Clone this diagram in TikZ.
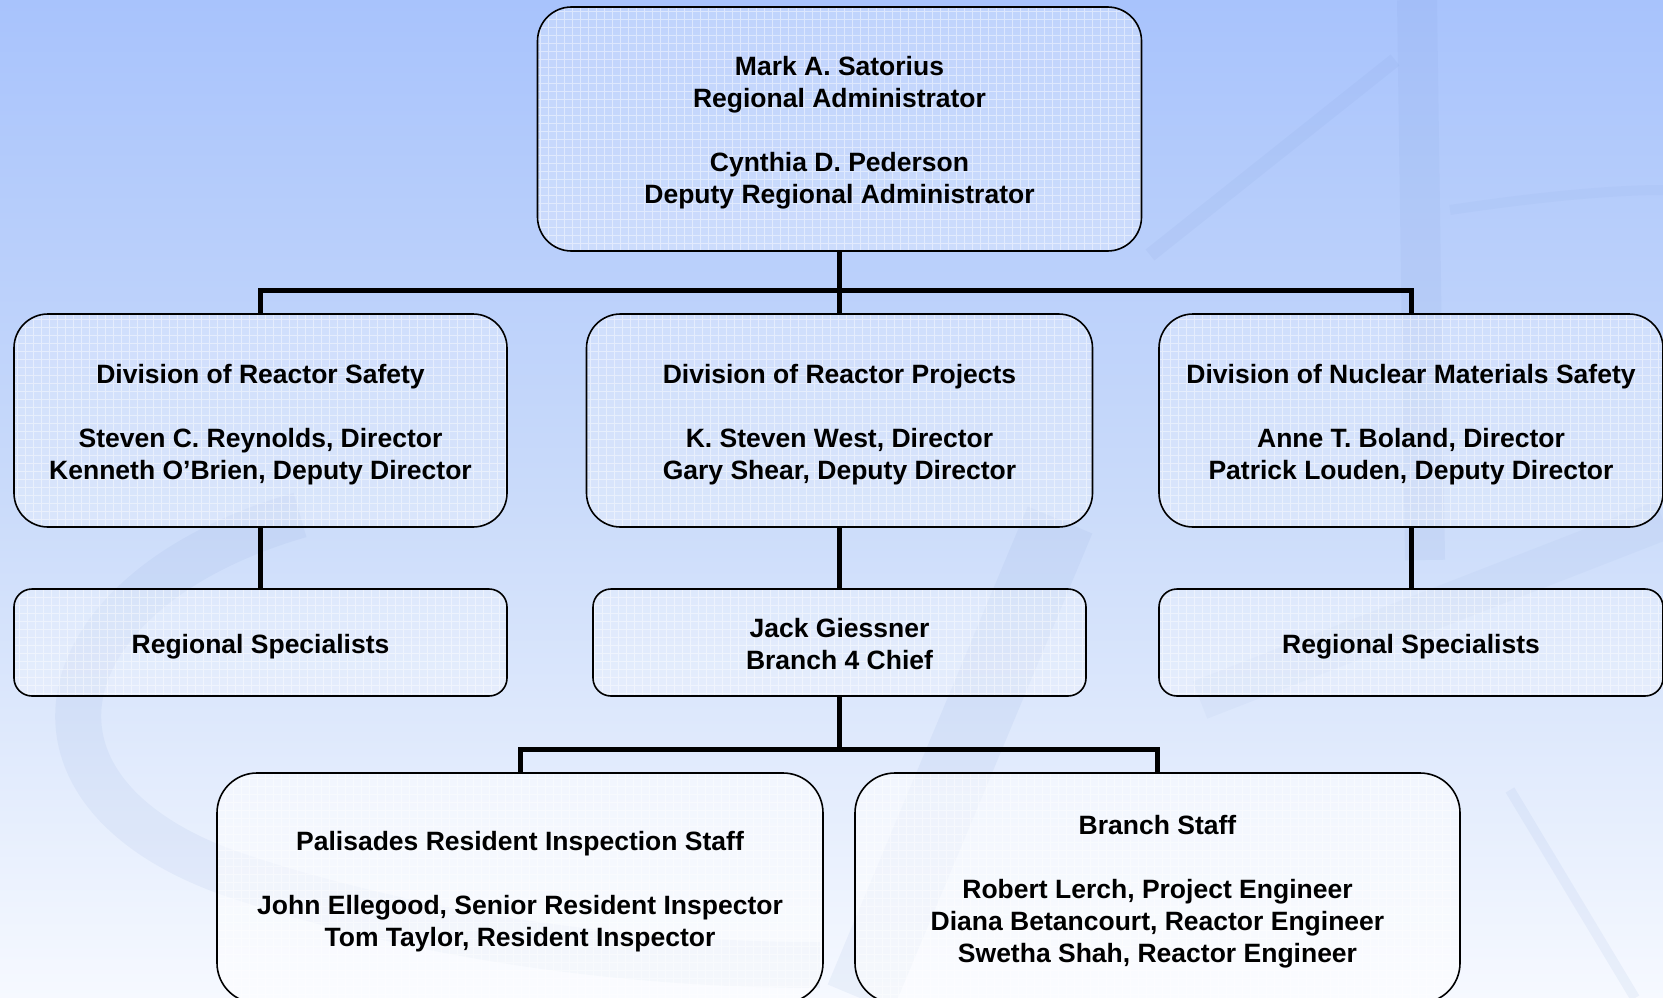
\documentclass[tikz,border=0pt]{standalone}
\usepackage{fontspec}
\setmainfont{Liberation Sans}
\definecolor{bgA}{RGB}{168,195,252}
\definecolor{bgB}{RGB}{202,219,250}
\definecolor{bgC}{RGB}{246,249,255}
\definecolor{ghost}{RGB}{120,150,210}
\newcommand\tstrut{\rule{0pt}{28pt}}
\tikzset{
  box/.style={draw=black, line width=1.6pt, rounded corners=34pt, fill=white,
    fill opacity=0.28, text opacity=1, align=center,
    font=\fontsize{26.5}{32}\bfseries\selectfont, inner sep=0pt,
    execute at end node={\rule[-7pt]{0pt}{7pt}},
    path picture={\draw[white, opacity=0.45, line width=0.6pt, step=8pt]
      (path picture bounding box.south west) grid (path picture bounding box.north east);}},
  smallbox/.style={box, rounded corners=18pt},
  lowbox/.style={box, fill opacity=0.55, rounded corners=40pt},
  conn/.style={line width=5pt, draw=black}
}
\begin{document}
\begin{tikzpicture}[x=1pt,y=-1pt]
\useasboundingbox (0,0) rectangle (1663,998);
\shade[top color=bgA, bottom color=bgC, middle color=bgB] (0,0) rectangle (1663,998);
% faint background emblem
\begin{scope}
\clip (0,0) rectangle (1663,998);
\draw[ghost, opacity=0.09, line width=46pt] (300,515) .. controls (40,590) and (-10,800) .. (250,880) .. controls (420,935) and (620,965) .. (820,965);
\draw[ghost, opacity=0.09, line width=40pt] (1417,0) -- (1425,560);
\draw[ghost, opacity=0.09, line width=14pt] (1150,255) -- (1395,60);
\draw[ghost, opacity=0.07, line width=10pt] (1450,210) .. controls (1550,195) and (1620,190) .. (1663,190);
\draw[ghost, opacity=0.09, line width=70pt] (1060,520) -- (860,998);
\draw[ghost, opacity=0.06, line width=40pt] (1663,520) -- (1200,700);
\draw[ghost, opacity=0.09, line width=10pt] (1510,790) -- (1635,998);
\end{scope}

\node[box, minimum width=604pt, minimum height=244pt] (top) at (839.5,129)
  {\tstrut Mark A. Satorius\\Regional Administrator\\[32pt]Cynthia D. Pederson\\Deputy Regional Administrator};

\node[box, minimum width=493pt, minimum height=213pt] (dl) at (260.5,420.5)
  {\tstrut Division of Reactor Safety\\[32pt]Steven C. Reynolds, Director\\Kenneth O’Brien, Deputy Director};
\node[box, minimum width=506pt, minimum height=213pt] (dm) at (839.5,420.5)
  {\tstrut Division of Reactor Projects\\[32pt]K. Steven West, Director\\Gary Shear, Deputy Director};
\node[box, minimum width=504pt, minimum height=213pt] (dr) at (1411,420.5)
  {\tstrut Division of Nuclear Materials Safety\\[32pt]Anne T. Boland, Director\\Patrick Louden, Deputy Director};

\node[smallbox, minimum width=493pt, minimum height=107pt] (rsl) at (260.5,642.5) {\tstrut Regional Specialists};
\node[smallbox, minimum width=493pt, minimum height=107pt] (jack) at (839.5,642.5) {\tstrut Jack Giessner\\Branch 4 Chief};
\node[smallbox, minimum width=504pt, minimum height=107pt] (rsr) at (1411,642.5) {\tstrut Regional Specialists};

\node[lowbox, minimum width=606pt, minimum height=230pt] (bl) at (520,888)
  {\tstrut Palisades Resident Inspection Staff\\[32pt]John Ellegood, Senior Resident Inspector\\Tom Taylor, Resident Inspector};
\node[lowbox, minimum width=605pt, minimum height=230pt] (br) at (1157.5,888)
  {\tstrut Branch Staff\\[32pt]Robert Lerch, Project Engineer\\Diana Betancourt, Reactor Engineer\\Swetha Shah, Reactor Engineer};

\coordinate (bus1) at (839.5,290);
\coordinate (bus2) at (839.5,749);
\draw[conn] (top.south) -- (bus1);
\draw[conn] (dl.north) |- (bus1);
\draw[conn] (dm.north) -- (bus1);
\draw[conn] (dr.north) |- (bus1);
\draw[conn] (dl.south) -- (rsl.north);
\draw[conn] (dm.south) -- (jack.north);
\draw[conn] (dr.south) -- (rsr.north);
\draw[conn] (jack.south) -- (bus2);
\draw[conn] (bl.north) |- (bus2);
\draw[conn] (br.north) |- (bus2);
\end{tikzpicture}
\end{document}
